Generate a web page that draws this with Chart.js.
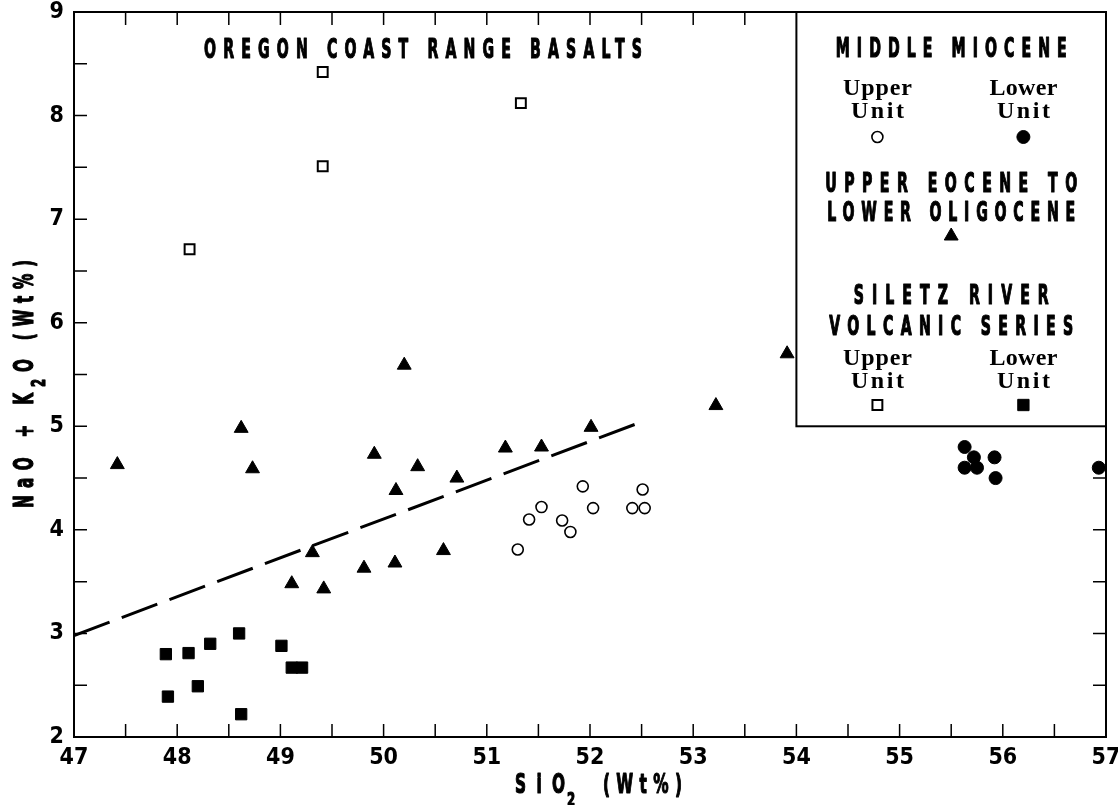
<!DOCTYPE html>
<html>
<head>
<meta charset="utf-8">
<script src="https://cdn.jsdelivr.net/npm/chart.js@4/dist/chart.umd.min.js"></script>
<style>
  html, body { margin: 0; padding: 0; background: #fff; }
  #wrap { width: 1118px; height: 805px; }
</style>
</head>
<body>
<div id="wrap"><canvas id="chart" width="1118" height="805"></canvas></div>
<script>
/* DATA */

// Middle Miocene, upper unit (open circles)
const mmUpperSiO2 = [51.30, 51.41, 51.53, 51.73, 51.81, 51.93, 52.03, 52.41, 52.53, 52.51]
const mmUpperAlk = [3.81, 4.10, 4.22, 4.09, 3.98, 4.42, 4.21, 4.21, 4.21, 4.39]

// Middle Miocene, lower unit (filled circles)
const mmLowerSiO2 = [55.63, 55.72, 55.63, 55.75, 55.92, 55.93, 56.93]
const mmLowerAlk = [4.80, 4.70, 4.60, 4.60, 4.70, 4.50, 4.60]

// Upper Eocene to Lower Oligocene (triangles)
const eoSiO2 = [47.42, 48.62, 48.73, 50.20, 49.91, 50.33, 50.12, 50.71, 51.18, 51.53, 52.01, 53.22, 53.91, 49.31, 49.11, 49.42, 49.81, 50.11, 50.58]
const eoAlk = [4.63, 4.98, 4.59, 5.59, 4.73, 4.61, 4.38, 4.50, 4.79, 4.80, 4.99, 5.20, 5.70, 3.78, 3.48, 3.43, 3.63, 3.68, 3.80]

// Siletz River Volcanic Series, upper unit (open squares)
const srUpperSiO2 = [48.12, 49.41, 49.41, 51.33]
const srUpperAlk = [6.71, 8.42, 7.51, 8.12]

// Siletz River Volcanic Series, lower unit (filled squares)
const srLowerSiO2 = [47.89, 48.11, 48.32, 48.60, 49.01, 49.11, 49.21, 48.20, 47.91, 48.62]
const srLowerAlk = [2.80, 2.81, 2.90, 3.00, 2.88, 2.67, 2.67, 2.49, 2.39, 2.22]

// dashed dividing line
const lineSiO2 = [47, 52.52]
const lineAlk = [2.98, 5.05]

// axes
const xTicks = [47, 48, 49, 50, 51, 52, 53, 54, 55, 56, 57]
const yTicks = [2, 3, 4, 5, 6, 7, 8, 9]

// texts
const chartTitle = 'OREGON COAST RANGE BASALTS'
const legendHeads = [['MIDDLE MIOCENE'], ['UPPER EOCENE TO', 'LOWER OLIGOCENE'], ['SILETZ RIVER', 'VOLCANIC SERIES']]

/*********************************/

const INK = '#000'
const PLOTTER = '"Liberation Sans Narrow", "DejaVu Sans Condensed", "Liberation Sans", sans-serif'
const SERIF = '"Liberation Serif", "DejaVu Serif", serif'

const toPoints = (xs, ys) => xs.map((x, i) => ({ x: x, y: ys[i] }))

const markers = {
  mmUpper: { pointStyle: 'circle', radius: 5.5, borderWidth: 1.6, fill: '#fff' },
  mmLower: { pointStyle: 'circle', radius: 6.5, borderWidth: 1, fill: INK },
  eo: { pointStyle: 'triangle', radius: 8, borderWidth: 1, fill: INK },
  srUpper: { pointStyle: 'rect', radius: 7, borderWidth: 2, fill: '#fff' },
  srLower: { pointStyle: 'rect', radius: 8, borderWidth: 1, fill: INK }
}

function pointSet(data, m) {
  return {
    data: data,
    pointStyle: m.pointStyle,
    pointRadius: m.radius,
    pointBorderWidth: m.borderWidth,
    pointBackgroundColor: m.fill,
    pointBorderColor: INK,
    showLine: false
  }
}

// text drawn squeezed, emboldened and letter-spaced to a given width, like the plotter lettering
function plotterText(ctx, text, left, baseline, width, size, glyphW) {
  ctx.save()
  ctx.font = `bold ${size}px ${PLOTTER}`
  ctx.letterSpacing = '0px'
  const sx = glyphW / ctx.measureText('O').width
  const natural = ctx.measureText(text).width
  const gap = text.length > 1 ? (width / sx - natural) / (text.length - 1) : 0
  ctx.letterSpacing = gap + 'px'
  ctx.translate(left, baseline)
  ctx.scale(sx, 1)
  ctx.textAlign = 'left'
  ctx.textBaseline = 'alphabetic'
  ctx.lineWidth = 1.2
  ctx.lineJoin = 'round'
  ctx.fillText(text, 0, 0)
  ctx.strokeText(text, 0, 0)
  ctx.restore()
}

function serifText(ctx, text, center, baseline, width) {
  ctx.save()
  ctx.font = `bold 24px ${SERIF}`
  ctx.letterSpacing = '0px'
  const natural = ctx.measureText(text).width
  const gap = (width - natural) / (text.length - 1)
  ctx.letterSpacing = gap + 'px'
  ctx.textAlign = 'left'
  ctx.fillText(text, center - width / 2, baseline)
  ctx.restore()
}

function marker(ctx, m, x, y) {
  ctx.save()
  ctx.fillStyle = m.fill
  ctx.strokeStyle = INK
  ctx.lineWidth = m.borderWidth
  Chart.helpers.drawPoint(ctx, { pointStyle: m.pointStyle, radius: m.radius, rotation: 0, borderWidth: m.borderWidth }, x, y)
  ctx.restore()
}

const frame = {
  id: 'frame',
  beforeDraw(chart) {
    const ctx = chart.ctx
    ctx.save()
    ctx.fillStyle = '#fff'
    ctx.fillRect(0, 0, chart.width, chart.height)
    ctx.restore()
  },
  afterDraw(chart) {
    const { ctx, chartArea: a, scales: { x, y } } = chart
    const tickLen = 13
    const boxLeft = x.getPixelForValue(54)
    const boxBottom = y.getPixelForValue(5)

    ctx.save()
    ctx.fillStyle = INK
    ctx.strokeStyle = INK

    // frame and inward ticks every half unit
    ctx.lineWidth = 2
    ctx.strokeRect(a.left, a.top, a.right - a.left, a.bottom - a.top)
    ctx.lineWidth = 1.5
    ctx.beginPath()
    for (let v = x.min + 0.5; v < x.max; v += 0.5) {
      const px = x.getPixelForValue(v)
      ctx.moveTo(px, a.bottom)
      ctx.lineTo(px, a.bottom - tickLen)
      if (v < 54) {
        ctx.moveTo(px, a.top)
        ctx.lineTo(px, a.top + tickLen)
      }
    }
    for (let v = y.min + 0.5; v < y.max; v += 0.5) {
      const py = y.getPixelForValue(v)
      ctx.moveTo(a.left, py)
      ctx.lineTo(a.left + tickLen, py)
      if (v < 5) {
        ctx.moveTo(a.right, py)
        ctx.lineTo(a.right - tickLen, py)
      }
    }
    ctx.stroke()

    // legend box
    ctx.lineWidth = 2
    ctx.strokeRect(boxLeft, a.top, a.right - boxLeft, boxBottom - a.top)

    // title
    plotterText(ctx, chartTitle, 204, a.top + 46, 438, 27, 12)

    // legend
    const cx = (boxLeft + a.right) / 2
    const colA = boxLeft + 81
    const colB = boxLeft + 227
    const headW = [[231], [252, 248], [195, 244]]
    const headY = [[45], [180, 209], [292, 323]]
    legendHeads.forEach((lines, i) => {
      lines.forEach((txt, j) => {
        plotterText(ctx, txt, cx - headW[i][j] / 2, a.top + headY[i][j], headW[i][j], 26, 12)
      })
    })

    serifText(ctx, 'Upper', colA, a.top + 83, 69)
    serifText(ctx, 'Unit', colA, a.top + 106, 53)
    serifText(ctx, 'Lower', colB, a.top + 83, 68)
    serifText(ctx, 'Unit', colB, a.top + 106, 53)
    marker(ctx, markers.mmUpper, colA, a.top + 125)
    marker(ctx, markers.mmLower, colB, a.top + 125)

    marker(ctx, markers.eo, cx, a.top + 224)

    serifText(ctx, 'Upper', colA, a.top + 353, 69)
    serifText(ctx, 'Unit', colA, a.top + 376, 53)
    serifText(ctx, 'Lower', colB, a.top + 353, 68)
    serifText(ctx, 'Unit', colB, a.top + 376, 53)
    marker(ctx, markers.srUpper, colA, a.top + 393)
    marker(ctx, markers.srLower, colB, a.top + 393)

    // x axis title: SiO2 (Wt%)
    plotterText(ctx, 'SiO', 515, 793, 50, 27, 13)
    plotterText(ctx, '2', 567, 806, 13, 20, 10)
    plotterText(ctx, '(Wt%)', 603, 793, 79, 27, 13)

    // y axis title: NaO + K2O (Wt%), reading upward
    ctx.translate(33, 508)
    ctx.rotate(-Math.PI / 2)
    plotterText(ctx, 'NaO + K', 0, 0, 115, 27, 13)
    plotterText(ctx, '2', 121, 12, 11, 20, 10)
    plotterText(ctx, 'O (Wt%)', 136, 0, 112, 27, 13)

    ctx.restore()
  }
}

const tickFont = { family: PLOTTER, size: 23, weight: 'bold', lineHeight: 1 }

const chart = new Chart(document.getElementById('chart'), {
  type: 'scatter',
  data: {
    datasets: [
      {
        type: 'line',
        data: toPoints(lineSiO2, lineAlk),
        borderColor: INK,
        borderWidth: 3,
        borderDash: [38, 13],
        pointRadius: 0,
        showLine: true,
        fill: false
      },
      pointSet(toPoints(mmUpperSiO2, mmUpperAlk), markers.mmUpper),
      pointSet(toPoints(mmLowerSiO2, mmLowerAlk), markers.mmLower),
      pointSet(toPoints(eoSiO2, eoAlk), markers.eo),
      pointSet(toPoints(srUpperSiO2, srUpperAlk), markers.srUpper),
      pointSet(toPoints(srLowerSiO2, srLowerAlk), markers.srLower)
    ]
  },
  options: {
    responsive: false,
    animation: false,
    devicePixelRatio: 1,
    layout: { padding: { top: 12, right: 12, left: 0, bottom: 0 } },
    plugins: {
      legend: { display: false },
      tooltip: { enabled: false }
    },
    scales: {
      x: {
        type: 'linear',
        min: xTicks[0],
        max: xTicks[xTicks.length - 1],
        grid: { display: false, drawTicks: false },
        border: { display: false },
        ticks: { color: INK, font: tickFont, padding: 10, autoSkip: false, maxRotation: 0 },
        afterBuildTicks: (s) => { s.ticks = xTicks.map((v) => ({ value: v })) },
        afterFit: (s) => {
          s.height = 68
          s.paddingLeft = 0
          s.paddingRight = 0
        }
      },
      y: {
        type: 'linear',
        min: yTicks[0],
        max: yTicks[yTicks.length - 1],
        grid: { display: false, drawTicks: false },
        border: { display: false },
        ticks: { color: INK, font: tickFont, padding: 10, autoSkip: false },
        afterBuildTicks: (s) => { s.ticks = yTicks.map((v) => ({ value: v })) },
        afterFit: (s) => {
          s.width = 74
          s.paddingTop = 0
          s.paddingBottom = 0
        }
      }
    }
  },
  plugins: [frame]
})
</script>
</body>
</html>
